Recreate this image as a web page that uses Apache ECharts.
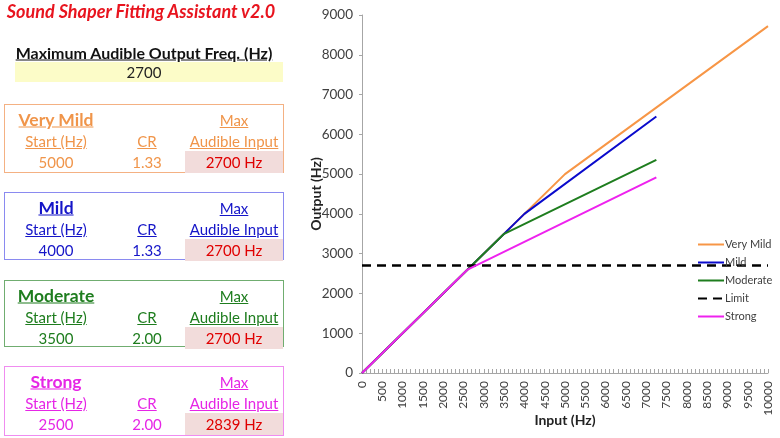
<!DOCTYPE html>
<html>
<head>
<meta charset="utf-8">
<script src="https://cdn.jsdelivr.net/npm/echarts@6/dist/echarts.min.js"></script>
<style>
  html, body { margin: 0; padding: 0; background: #fff; }
  #chart { position: absolute; left: 0; top: 0; width: 780px; height: 438px; }
  #panel { position: absolute; left: 0; top: 0; width: 300px; height: 438px; font-family: Lato, "Open Sans", sans-serif; }
  .t { position: absolute; white-space: nowrap; transform: translate(-50%, -50%); }
</style>
</head>
<body>
<div id="chart"></div>
<div id="panel"></div>
<script>
// ---- data ----
var maxOutputFreq = 2700;
var levelNames = ['Very Mild', 'Mild', 'Moderate', 'Strong'];
var startHz = [5000, 4000, 3500, 2500];
var ratios = ['1.33', '1.33', '2.00', '2.00'];
var maxAudibleInput = [2700, 2700, 2700, 2839];

// curve knots (input Hz, output Hz)
var veryMildIn = [0, 5000, 10000];
var veryMildOut = [0, 5000, 8720];
var mildIn = [0, 4000, 7250];
var mildOut = [0, 4000, 6450];
var moderateIn = [0, 3500, 7250];
var moderateOut = [0, 3500, 5360];
var strongIn = [0, 2600, 7250];
var strongOut = [0, 2600, 4920];
var limitIn = [0, 10000];
var limitOut = [2700, 2700];

var colors = {
  'Very Mild': '#F79646',
  'Mild': '#0A0ACC',
  'Moderate': '#1E7D1E',
  'Limit': '#000000',
  'Strong': '#EE22EE'
};
var boxStyle = [
  { text: '#F0954A', border: '#F4B183', top: 104, h: 69 },
  { text: '#1515C8', border: '#8A8AF0', top: 192, h: 68 },
  { text: '#1E7D1E', border: '#70AD70', top: 280, h: 67 },
  { text: '#E626E6', border: '#F08CF0', top: 366, h: 70 }
];

function pairs(xs, ys) {
  return xs.map(function (x, i) { return [x, ys[i]]; });
}

// ---- left panel (spreadsheet look) ----
var panel = document.getElementById('panel');
function addText(txt, x, y, css) {
  var d = document.createElement('div');
  d.className = 't';
  d.textContent = txt;
  d.style.left = x + 'px';
  d.style.top = y + 'px';
  for (var k in css) d.style[k] = css[k];
  panel.appendChild(d);
  return d;
}
function addRect(x, y, w, h, css) {
  var d = document.createElement('div');
  d.style.position = 'absolute';
  d.style.left = x + 'px';
  d.style.top = y + 'px';
  d.style.width = w + 'px';
  d.style.height = h + 'px';
  d.style.boxSizing = 'border-box';
  for (var k in css) d.style[k] = css[k];
  panel.appendChild(d);
}

addText('Sound Shaper Fitting Assistant v2.0', 141, 11, {
  color: '#E8141E', fontWeight: 'bold', fontStyle: 'italic', fontSize: '18px'
});
addText('Maximum Audible Output Freq. (Hz)', 144, 52, {
  color: '#111', fontWeight: 'bold', fontSize: '16px', textDecoration: 'underline'
});
addRect(15, 62, 268, 20, { background: '#FCFCC8' });
addText(String(maxOutputFreq), 144, 72, { color: '#222', fontSize: '15px' });

levelNames.forEach(function (name, i) {
  var s = boxStyle[i];
  var top = s.top;
  addRect(4, top, 280, s.h, { border: '1px solid ' + s.border });
  var row1 = top + 15, row2 = top + 37, row3 = top + 58;
  addText(name, 56, row1, { color: s.text, fontWeight: 'bold', fontSize: '17.5px', textDecoration: 'underline' });
  addText('Max', 234, row1 + 1, { color: s.text, fontSize: '15px', textDecoration: 'underline' });
  addText('Start (Hz)', 56, row2, { color: s.text, fontSize: '15px', textDecoration: 'underline' });
  addText('CR', 147, row2, { color: s.text, fontSize: '15px', textDecoration: 'underline' });
  addText('Audible Input', 234, row2, { color: s.text, fontSize: '15px', textDecoration: 'underline' });
  addRect(185, row3 - 11, 98, 22, { background: '#F2DCDB' });
  addText(String(startHz[i]), 56, row3, { color: s.text, fontSize: '15px' });
  addText(ratios[i], 147, row3, { color: s.text, fontSize: '15px' });
  addText(maxAudibleInput[i] + ' Hz', 234, row3, { color: '#E00000', fontSize: '15px' });
});

// ---- chart ----
var chart = echarts.init(document.getElementById('chart'));
var font = 'Lato, "Open Sans", sans-serif';

function lineSeries(name, xs, ys, dashed) {
  return {
    name: name,
    type: 'line',
    data: pairs(xs, ys),
    symbol: 'none',
    showSymbol: false,
    animation: false,
    lineStyle: {
      color: colors[name],
      width: dashed ? 2.5 : 2,
      type: dashed ? [9, 6] : 'solid'
    },
    itemStyle: { color: colors[name] }
  };
}

chart.setOption({
  animation: false,
  textStyle: { fontFamily: font },
  grid: { left: 362, right: 12, top: 15, bottom: 65, containLabel: false, outerBoundsMode: 'none' },
  legend: {
    orient: 'vertical',
    left: 692,
    top: 234,
    itemWidth: 26,
    itemHeight: 12,
    itemGap: 7,
    itemStyle: { opacity: 0 },
    textStyle: { fontSize: 11, color: '#404040', fontFamily: font, padding: [0, 0, 0, -4] },
    data: ['Very Mild', 'Mild', 'Moderate', 'Limit', 'Strong']
  },
  xAxis: {
    type: 'value',
    min: 0,
    max: 10000,
    interval: 500,
    name: 'Input (Hz)',
    nameLocation: 'middle',
    nameGap: 40,
    nameMoveOverlap: false,
    nameTextStyle: { fontSize: 14, fontWeight: 'bold', color: '#222', fontFamily: font },
    axisLine: { lineStyle: { color: '#A6A6A6', width: 1 } },
    axisTick: { inside: true, length: 4, lineStyle: { color: '#A6A6A6' } },
    minorTick: { show: true, splitNumber: 5, length: 4, lineStyle: { color: '#A6A6A6' } },
    splitLine: { show: false },
    axisLabel: { rotate: 90, fontSize: 12, color: '#404040', margin: 8, fontFamily: font,
      formatter: function (v) { return String(v); } }
  },
  yAxis: {
    type: 'value',
    min: 0,
    max: 9000,
    interval: 1000,
    name: 'Output (Hz)',
    nameLocation: 'middle',
    nameGap: 39,
    nameMoveOverlap: false,
    nameTextStyle: { fontSize: 14, fontWeight: 'bold', color: '#222', fontFamily: font },
    axisLine: { show: true, lineStyle: { color: '#A6A6A6', width: 1 } },
    axisTick: { show: true, length: 3, lineStyle: { color: '#A6A6A6' } },
    splitLine: { show: false },
    axisLabel: { fontSize: 13.5, color: '#404040', margin: 9, fontFamily: font,
      formatter: function (v) { return String(v); } }
  },
  series: [
    lineSeries('Very Mild', veryMildIn, veryMildOut),
    lineSeries('Mild', mildIn, mildOut),
    lineSeries('Moderate', moderateIn, moderateOut),
    lineSeries('Limit', limitIn, limitOut, true),
    lineSeries('Strong', strongIn, strongOut)
  ]
});
</script>
</body>
</html>
